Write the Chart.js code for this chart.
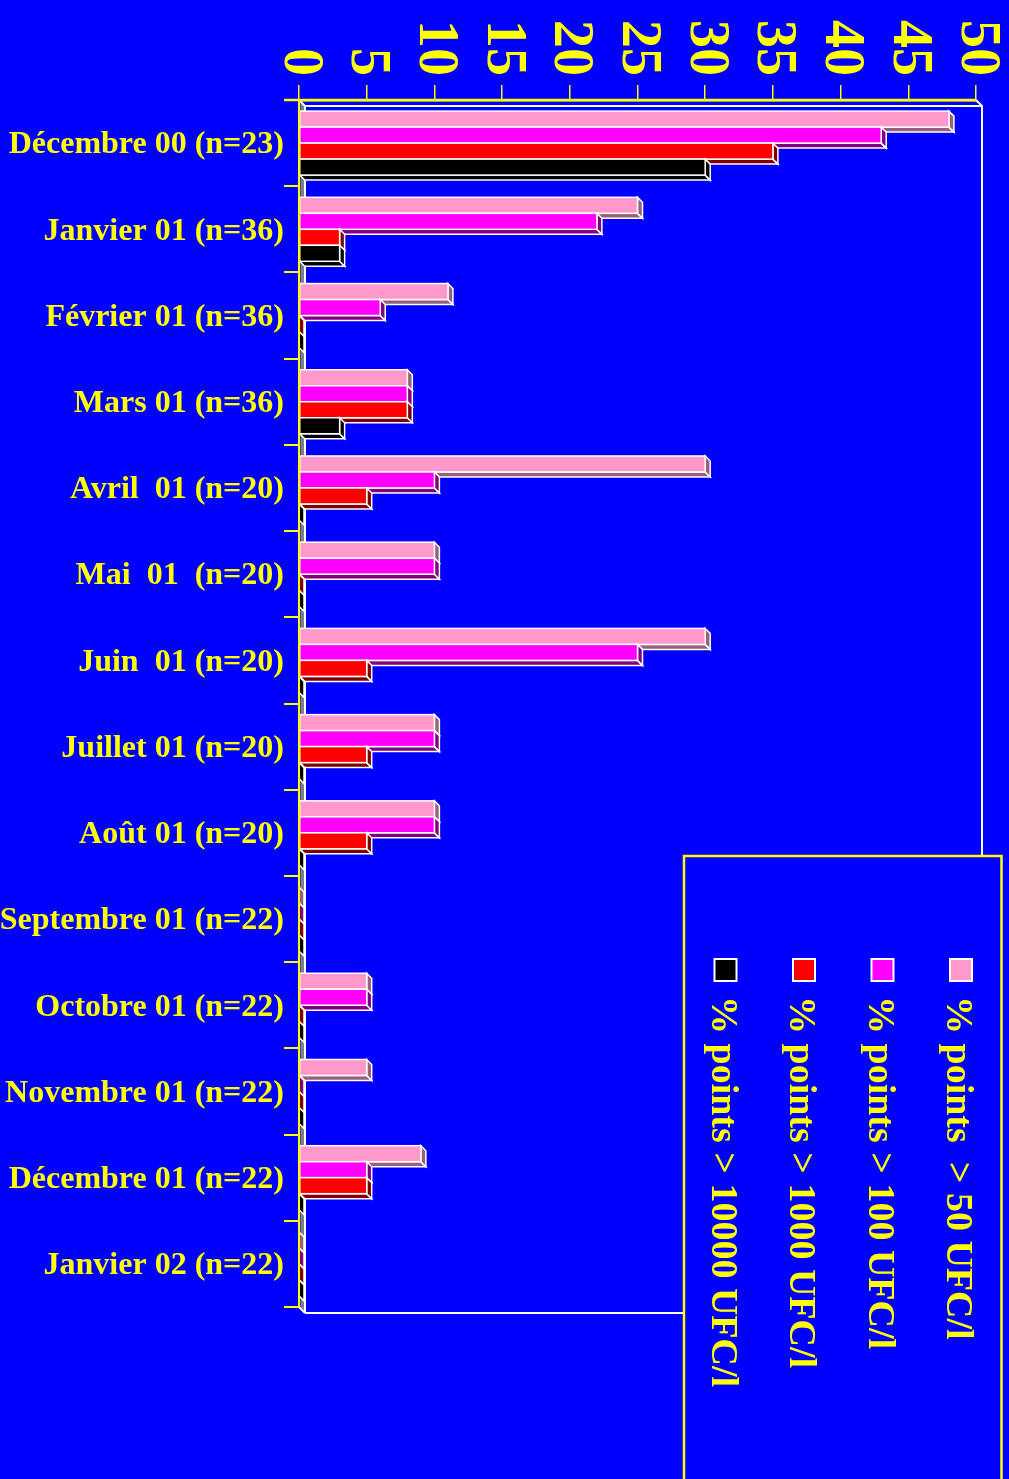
<!DOCTYPE html>
<html><head><meta charset="utf-8">
<script src="https://cdn.jsdelivr.net/npm/chart.js@4/dist/chart.umd.min.js"></script>
<style>html,body{margin:0;padding:0;background:#0000FF;overflow:hidden}#wrap{width:1009px;height:1479px}</style>
</head><body><div id="wrap"><canvas id="c" width="1009" height="1479"></canvas></div>
<script>
const categories = ['Décembre 00 (n=23)', 'Janvier 01 (n=36)', 'Février 01 (n=36)', 'Mars 01 (n=36)',
  'Avril  01 (n=20)', 'Mai  01  (n=20)', 'Juin  01 (n=20)', 'Juillet 01 (n=20)', 'Août 01 (n=20)',
  'Septembre 01 (n=22)', 'Octobre 01 (n=22)', 'Novembre 01 (n=22)', 'Décembre 01 (n=22)', 'Janvier 02 (n=22)'];
const seriesNames = ['% points  > 50 UFC/l', '% points > 100 UFC/l', '% points > 1000 UFC/l', '% points > 10000 UFC/l'];
const p50    = [48, 25, 11, 8, 30, 10, 30, 10, 10, 0, 5, 5, 9, 0];
const p100   = [43, 22, 6, 8, 10, 10, 25, 10, 10, 0, 5, 0, 5, 0];
const p1000  = [35, 3, 0, 8, 5, 0, 5, 5, 5, 0, 0, 0, 5, 0];
const p10000 = [30, 3, 0, 3, 0, 0, 0, 0, 0, 0, 0, 0, 0, 0];
const xMin = 0, xMax = 50, xStep = 5;
const faceColors = ['#FF99CC', '#FF00FF', '#FF0000', '#000000'];
const sideColors = ['#99607A', '#800080', '#800000', '#000000'];

const YELLOW = '#FFFF00', BLUE = '#0000FF', WHITE = '#FFFFFF';
const FONT = "'Liberation Serif', 'DejaVu Serif', serif";
const D = 5;      // bar depth
const FD = 6;     // frame depth

function poly(ctx, pts, fill, stroke, lw) {
  ctx.beginPath();
  ctx.moveTo(pts[0][0], pts[0][1]);
  for (let i = 1; i < pts.length; i++) ctx.lineTo(pts[i][0], pts[i][1]);
  ctx.closePath();
  if (fill) { ctx.fillStyle = fill; ctx.fill(); }
  if (stroke) { ctx.strokeStyle = stroke; ctx.lineWidth = lw || 1.5; ctx.stroke(); }
}

const deco = {
  id: 'deco',
  beforeDraw(chart) {
    const ctx = chart.ctx;
    ctx.save(); ctx.fillStyle = BLUE; ctx.fillRect(0, 0, chart.width, chart.height); ctx.restore();
  },
  beforeDatasetsDraw(chart) {
    const ctx = chart.ctx, a = chart.chartArea;
    ctx.save();
    ctx.lineJoin = 'miter';
    poly(ctx, [[a.left + 1.5, a.top], [a.left + FD, a.top + FD], [a.left + FD, a.bottom + FD], [a.left + 1.5, a.bottom]], '#808080', null);
    ctx.strokeStyle = WHITE; ctx.lineWidth = 2;
    ctx.beginPath();
    ctx.moveTo(a.left + FD, a.bottom + FD); ctx.lineTo(a.left + FD, a.top + FD);
    ctx.lineTo(a.right + FD, a.top + FD); ctx.lineTo(a.right + FD, a.bottom + FD);
    ctx.lineTo(a.left + FD, a.bottom + FD);
    ctx.moveTo(a.left, a.top); ctx.lineTo(a.left + FD, a.top + FD);
    ctx.moveTo(a.right, a.top); ctx.lineTo(a.right + FD, a.top + FD);
    ctx.moveTo(a.left, a.bottom); ctx.lineTo(a.left + FD, a.bottom + FD);
    ctx.stroke();
    ctx.restore();
  },
  afterDatasetsDraw(chart) {
    const ctx = chart.ctx;
    ctx.save();
    ctx.lineJoin = 'miter';
    const n = chart.data.labels.length;
    for (let i = 0; i < n; i++) {
      chart.data.datasets.forEach((ds, di) => {
        const el = chart.getDatasetMeta(di).data[i];
        if (!el) return;
        const p = el.getProps(['x', 'y', 'base', 'height'], true);
        const x0 = Math.min(p.base, p.x), x1 = Math.max(p.base, p.x);
        const yT = p.y - p.height / 2, yB = p.y + p.height / 2;
        const side = sideColors[di], face = faceColors[di];
        if (x1 - x0 > 0.5) poly(ctx, [[x0, yB], [x1, yB], [x1 + D, yB + D], [x0 + D, yB + D]], side, WHITE, 1.5);
        poly(ctx, [[x1, yT], [x1 + D, yT + D], [x1 + D, yB + D], [x1, yB]], side, WHITE, 1.5);
        if (x1 - x0 > 0.5) {
          ctx.fillStyle = face; ctx.fillRect(x0, yT, x1 - x0, yB - yT);
          ctx.strokeStyle = WHITE; ctx.lineWidth = 1.5; ctx.strokeRect(x0, yT, x1 - x0, yB - yT);
        }
      });
    }
    const a = chart.chartArea;
    ctx.strokeStyle = YELLOW; ctx.lineWidth = 2;
    ctx.beginPath(); ctx.moveTo(a.left, a.top); ctx.lineTo(a.left, a.bottom); ctx.stroke();
    ctx.restore();
  },
  afterDraw(chart) {
    const ctx = chart.ctx, a = chart.chartArea;
    ctx.save();
    ctx.strokeStyle = YELLOW; ctx.lineWidth = 2.5;
    ctx.beginPath(); ctx.moveTo(a.left - 15, a.top); ctx.lineTo(a.right, a.top); ctx.stroke();
    const xs = chart.scales.x;
    ctx.fillStyle = YELLOW;
    ctx.font = 'bold 56px ' + FONT;
    xs.ticks.forEach(t => {
      const px = xs.getPixelForValue(t.value);
      ctx.save();
      ctx.translate(px, 76);
      ctx.rotate(Math.PI / 2);
      ctx.textAlign = 'right'; ctx.textBaseline = 'middle';
      ctx.fillText(String(t.value), 0, 0);
      ctx.restore();
    });
    const lx = 684, ly = 856, lw = 317.5, lh = 700;
    ctx.fillStyle = BLUE; ctx.fillRect(lx, ly, lw, lh);
    ctx.strokeStyle = YELLOW; ctx.lineWidth = 2.5; ctx.strokeRect(lx, ly, lw, lh);
    const baseX = [947, 868.5, 790, 711.5];
    ctx.font = 'bold 38px ' + FONT;
    chart.data.datasets.forEach((ds, di) => {
      const bx = baseX[di];
      ctx.fillStyle = ds.backgroundColor; ctx.fillRect(bx + 3, 959, 22, 22);
      ctx.strokeStyle = WHITE; ctx.lineWidth = 2; ctx.strokeRect(bx + 3, 959, 22, 22);
      ctx.save();
      ctx.translate(bx, 996);
      ctx.rotate(Math.PI / 2);
      ctx.fillStyle = YELLOW; ctx.textAlign = 'left'; ctx.textBaseline = 'alphabetic';
      ctx.fillText(ds.label, 0, 0);
      ctx.restore();
    });
    ctx.restore();
  }
};

const seriesData = [p50, p100, p1000, p10000];
new Chart(document.getElementById('c'), {
  type: 'bar',
  data: {
    labels: categories,
    datasets: seriesData.map((d, i) => ({
      label: seriesNames[i], data: d, backgroundColor: faceColors[i], borderWidth: 0,
      categoryPercentage: 0.742, barPercentage: 1
    }))
  },
  options: {
    indexAxis: 'y', responsive: false, animation: false,
    layout: { padding: { left: 0, top: 0, right: 33, bottom: 172 } },
    plugins: { legend: { display: false }, tooltip: { enabled: false } },
    scales: {
      x: {
        position: 'top', min: xMin, max: xMax,
        afterFit(s) { s.height = 100; },
        ticks: { stepSize: xStep, color: 'rgba(0,0,0,0)', font: { size: 1 }, maxRotation: 0, padding: 0 },
        grid: { drawOnChartArea: false, color: YELLOW, tickLength: 15, lineWidth: 1.5 },
        border: { color: YELLOW, width: 2.5 }
      },
      y: {
        afterFit(s) { s.width = 299; },
        ticks: { color: YELLOW, autoSkip: false, padding: 0, labelOffset: 2, font: { family: FONT, size: 32, weight: 'bold' } },
        grid: { drawOnChartArea: false, color: YELLOW, tickLength: 15, lineWidth: 2 },
        border: { color: YELLOW, width: 2 }
      }
    }
  },
  plugins: [deco]
});
</script></body></html>
